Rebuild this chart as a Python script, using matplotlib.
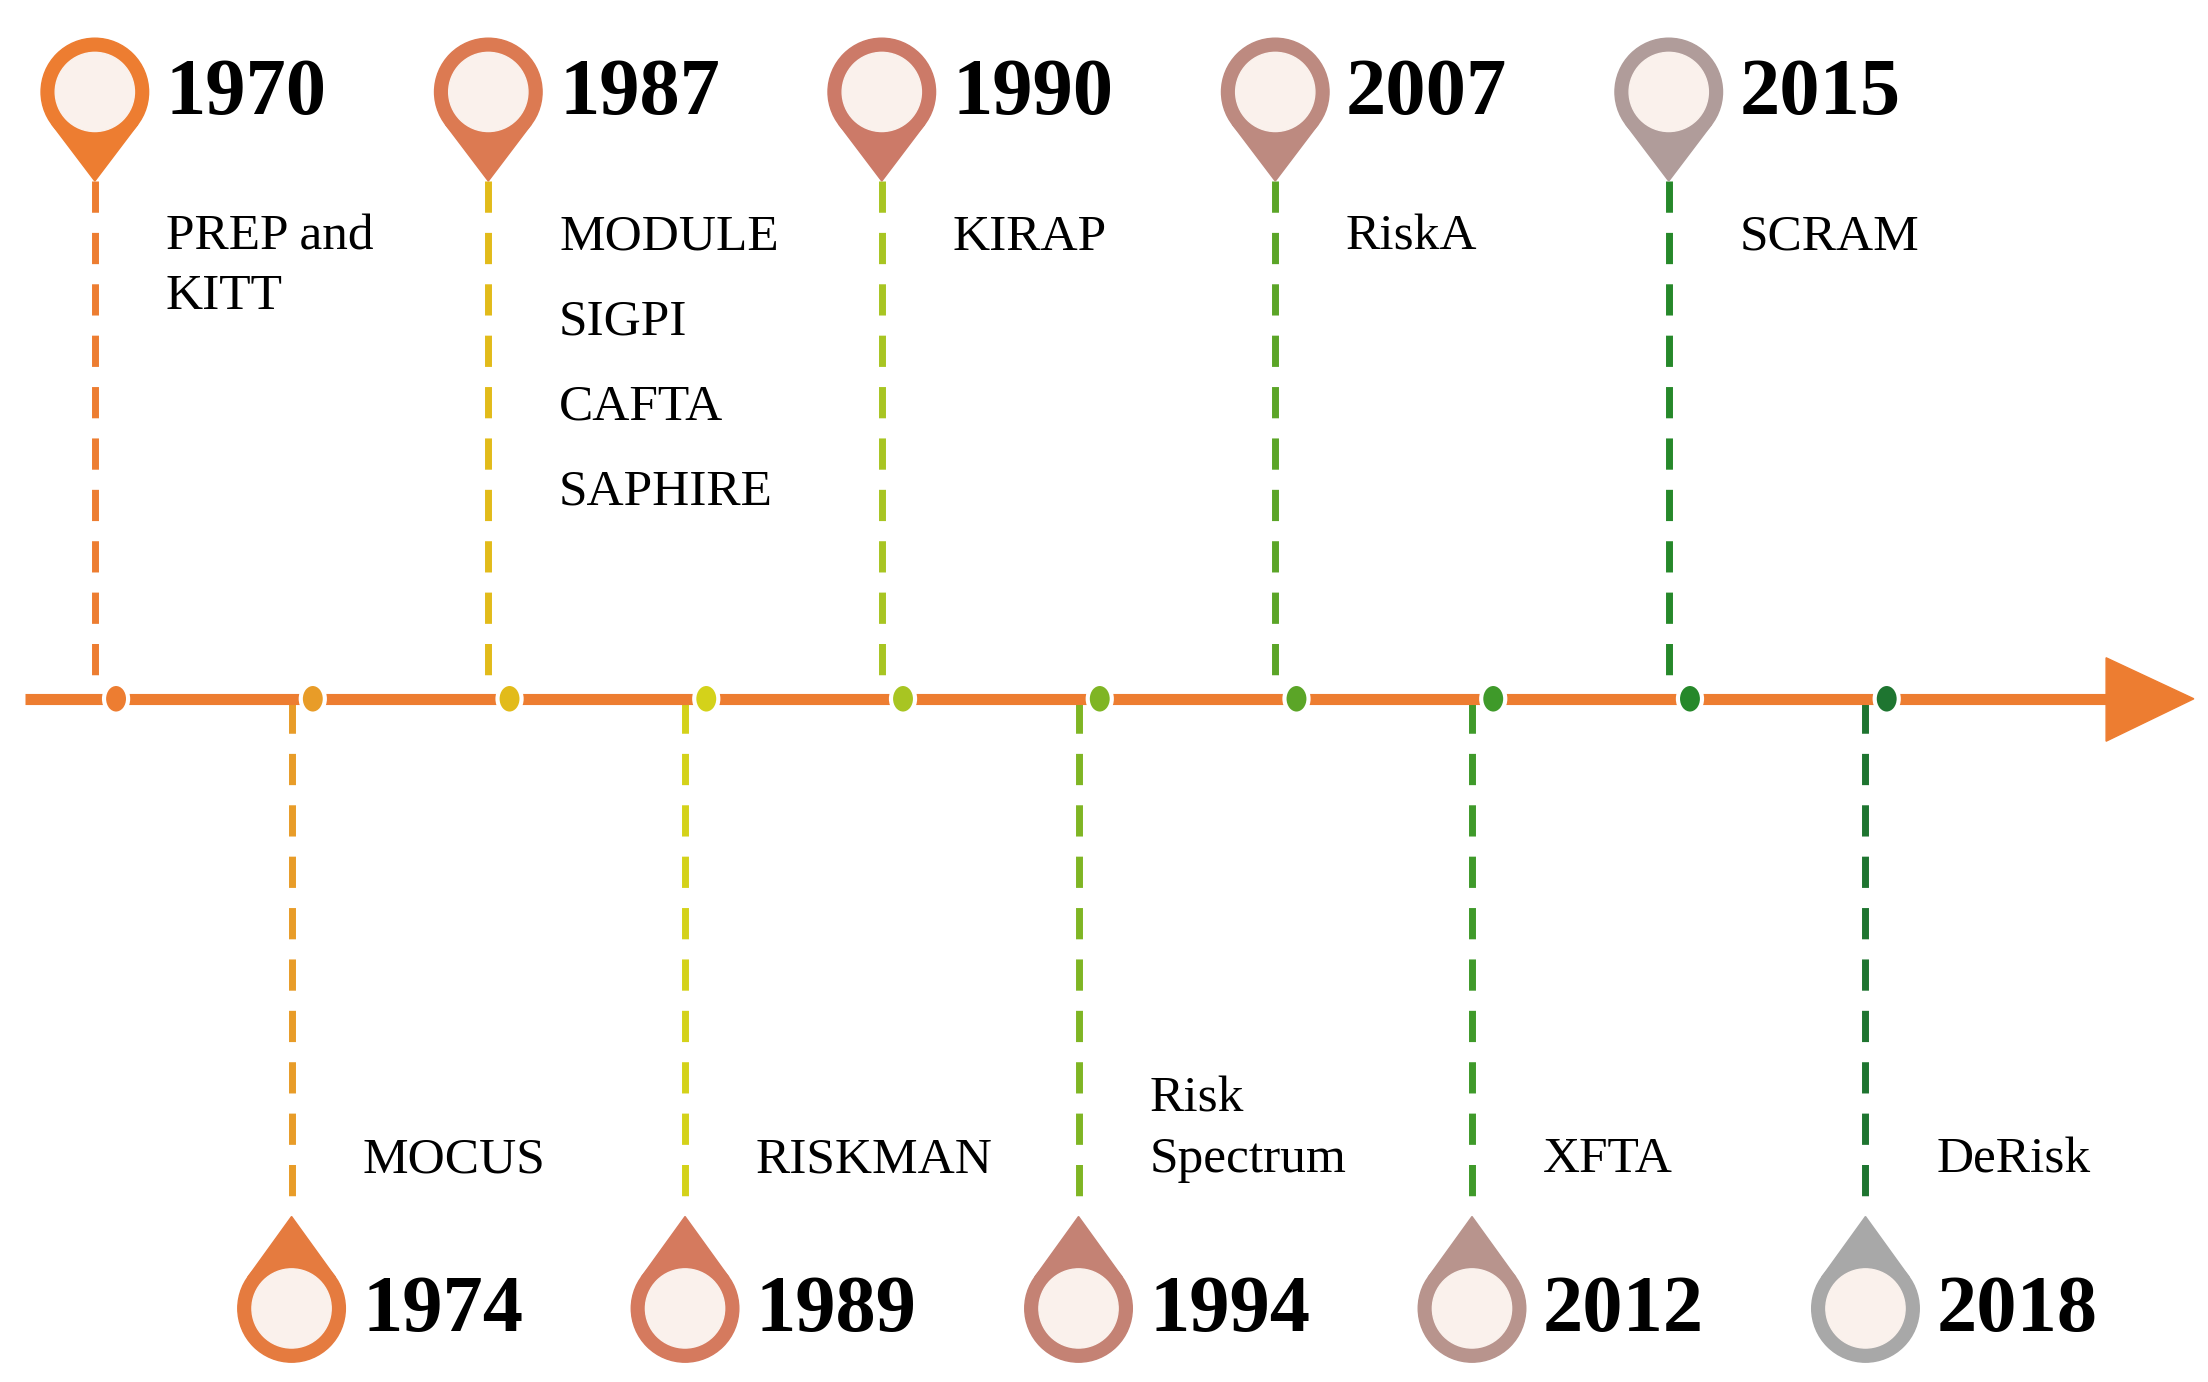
import numpy as np
import matplotlib
matplotlib.use("Agg")
import matplotlib.pyplot as plt
from matplotlib.patches import Ellipse, Circle, Polygon

years = ["1970", "1974", "1987", "1989", "1990", "1994", "2007", "2012", "2015", "2018"]
labels = [["PREP and", "KITT"], ["MOCUS"], ["MODULE", "SIGPI", "CAFTA", "SAPHIRE"], ["RISKMAN"],
          ["KIRAP"], ["Risk", "Spectrum"], ["RiskA"], ["XFTA"], ["SCRAM"], ["DeRisk"]]
pin_colors = ["#ED7D31", "#E57B3F", "#DC7A52", "#D57A5E", "#CC7A68", "#C48274",
              "#BD8A80", "#B8948D", "#B09C9A", "#A8A8A8"]
line_colors = ["#ED7D31", "#E89C28", "#E2BB1A", "#D4D21A", "#A8C522", "#7FB524",
               "#5BA527", "#3F9A2A", "#26882A", "#1E7530"]

fig = plt.figure(figsize=(22.08, 13.82), dpi=100)
ax = fig.add_axes([0, 0, 1, 1])
ax.set_xlim(0, 1560)
ax.set_ylim(977, 0)
ax.axis("off")

AXY = 494
ax.plot([18, 1495], [AXY, AXY], color="#ED7D31", lw=8, solid_capstyle="butt", zorder=2)
ax.add_patch(Polygon([[1488, 465], [1550, 494], [1488, 524]], closed=True, color="#ED7D31", zorder=2))

def pin(cx, cy, tipy, color):
    r = 38
    d = abs(tipy - cy)
    s = np.sign(tipy - cy)
    ang = np.arccos(r / d)
    p1 = [cx + r*np.sin(ang), cy + s*r*np.cos(ang)]
    p2 = [cx - r*np.sin(ang), cy + s*r*np.cos(ang)]
    ax.add_patch(Polygon([p1, [cx, tipy], p2], closed=True, color=color, zorder=4))
    ax.add_patch(Circle((cx, cy), r, color=color, zorder=4))
    ax.add_patch(Circle((cx, cy), 28, color="#FAF1EC", zorder=5))

serif = ["Liberation Serif", "DejaVu Serif"]
for i, (yr, lab) in enumerate(zip(years, labels)):
    x = 67 + i*139
    top = (i % 2 == 0)
    if top:
        ln, = ax.plot([x, x], [128, 488], color=line_colors[i], lw=5, zorder=1)
        pin(x, 65, 128, pin_colors[i])
        ax.text(x + 50, 67, yr, fontsize=58, fontweight="bold", family=serif, va="center", ha="left")
        step = 42 if len(lab) == 2 else 60
        for j, t in enumerate(lab):
            ax.text(x + 50, 168 + j*step, t, fontsize=37, family=serif, va="center", ha="left")
    else:
        ln, = ax.plot([x, x], [496, 858], color=line_colors[i], lw=5, zorder=1)
        pin(x, 925, 860, pin_colors[i])
        ax.text(x + 50, 927, yr, fontsize=58, fontweight="bold", family=serif, va="center", ha="left")
        n = len(lab)
        for j, t in enumerate(lab):
            ax.text(x + 50, 820 - (n - 1 - j)*43, t, fontsize=37, family=serif, va="center", ha="left")
    ln.set_dashes((4.5, 2.9))
    ax.add_patch(Ellipse((x + 15, AXY), 17, 21, facecolor=line_colors[i], edgecolor="white", lw=3, zorder=3))

fig.savefig("out.png", dpi=100)
